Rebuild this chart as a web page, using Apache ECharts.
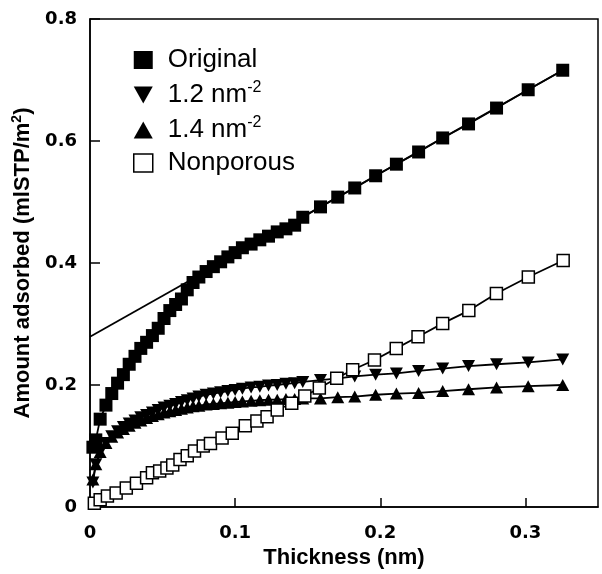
<!DOCTYPE html>
<html>
<head>
<meta charset="utf-8">
<script src="https://cdn.jsdelivr.net/npm/echarts@6/dist/echarts.min.js"></script>
<style>html,body{margin:0;padding:0;background:#fff}#c{width:602px;height:574px}</style>
</head>
<body>
<div id="c"></div>
<script>
// Thickness grid (nm) shared by Original, 1.2 nm-2 and 1.4 nm-2
const thickness = [0.002, 0.004, 0.007, 0.011, 0.015, 0.019, 0.023, 0.027, 0.031, 0.035, 0.039, 0.043, 0.047, 0.051, 0.055, 0.059, 0.063, 0.067, 0.071, 0.075, 0.080, 0.085, 0.090, 0.095, 0.100, 0.105, 0.111, 0.117, 0.123, 0.129, 0.135, 0.141, 0.1466, 0.1588, 0.1707, 0.1824, 0.1968, 0.2111, 0.2264, 0.2430, 0.2608, 0.2801, 0.3019, 0.3257];
const original = [0.098, 0.110, 0.144, 0.167, 0.186, 0.203, 0.217, 0.234, 0.247, 0.260, 0.270, 0.281, 0.293, 0.309, 0.322, 0.332, 0.341, 0.356, 0.368, 0.377, 0.386, 0.394, 0.402, 0.410, 0.417, 0.425, 0.431, 0.438, 0.444, 0.451, 0.456, 0.462, 0.475, 0.492, 0.508, 0.523, 0.543, 0.562, 0.582, 0.605, 0.628, 0.654, 0.684, 0.716];
const dens12 = [0.040, 0.070, 0.090, 0.105, 0.116, 0.124, 0.131, 0.137, 0.142, 0.147, 0.151, 0.155, 0.159, 0.163, 0.166, 0.169, 0.172, 0.175, 0.178, 0.181, 0.184, 0.186, 0.188, 0.190, 0.192, 0.194, 0.196, 0.197, 0.199, 0.200, 0.202, 0.203, 0.205, 0.208, 0.211, 0.214, 0.217, 0.219, 0.223, 0.227, 0.231, 0.234, 0.237, 0.242];
const dens14 = [0.045, 0.070, 0.090, 0.105, 0.115, 0.122, 0.128, 0.133, 0.138, 0.142, 0.146, 0.149, 0.152, 0.155, 0.157, 0.159, 0.161, 0.163, 0.165, 0.166, 0.168, 0.169, 0.170, 0.171, 0.172, 0.173, 0.174, 0.175, 0.176, 0.176, 0.177, 0.177, 0.178, 0.178, 0.180, 0.181, 0.184, 0.186, 0.187, 0.190, 0.193, 0.196, 0.198, 0.200];
// Nonporous reference
const npThickness = [0.003, 0.007, 0.012, 0.018, 0.025, 0.032, 0.039, 0.043, 0.048, 0.053, 0.057, 0.062, 0.067, 0.072, 0.078, 0.083, 0.091, 0.098, 0.107, 0.115, 0.122, 0.129, 0.139, 0.148, 0.158, 0.170, 0.181, 0.196, 0.211, 0.226, 0.243, 0.261, 0.280, 0.302, 0.326];
const nonporous = [0.006, 0.012, 0.018, 0.023, 0.031, 0.039, 0.048, 0.056, 0.059, 0.064, 0.069, 0.078, 0.084, 0.092, 0.100, 0.104, 0.113, 0.121, 0.133, 0.141, 0.148, 0.159, 0.170, 0.182, 0.195, 0.211, 0.225, 0.241, 0.260, 0.279, 0.301, 0.322, 0.350, 0.377, 0.404];
// Linear fit of the Original curve
const fitX = [0, 0.3257];
const fitY = [0.279, 0.716];
const xTicks = [0, 0.1, 0.2, 0.3];
const yTicks = [0, 0.2, 0.4, 0.6, 0.8];
const seriesNames = ['Original', '1.2 nm-2', '1.4 nm-2', 'Nonporous'];

const pairs = (xs, ys) => xs.map((x, i) => [x, ys[i]]);
const downTri = 'path://M0,0 L10,0 L5,9 Z';
const upTri = 'path://M5,0 L10,9 L0,9 Z';

const chart = echarts.init(document.getElementById('c'));
const tickFont = { fontFamily: 'DejaVu Sans', fontWeight: 'bold', fontSize: 18, color: '#000' };
const fmt = (ticks) => (v) => { const r = Math.round(v * 10) / 10; return ticks.indexOf(r) === 0 ? '0' : r.toFixed(1); };
chart.setOption({
  animation: false,
  backgroundColor: '#fff',
  grid: { left: 90, right: 4, top: 19, bottom: 65, show: true, borderColor: '#000', borderWidth: 1.5, backgroundColor: 'transparent' },
  legend: {
    orient: 'vertical', left: 128, top: 42, itemWidth: 19, itemHeight: 18, itemGap: 7,
    data: [
      { name: seriesNames[0], icon: 'rect', itemStyle: { color: '#000' } },
      { name: seriesNames[1], icon: downTri, itemStyle: { color: '#000' } },
      { name: seriesNames[2], icon: upTri, itemStyle: { color: '#000' } },
      { name: seriesNames[3], icon: 'rect', itemStyle: { color: '#fff', borderColor: '#000', borderWidth: 1.5 } }
    ],
    formatter: function (n) {
      const m = n.match(/^(.*)-2$/);
      return m ? '{a|' + m[1] + '}{s|-2}' : '{a|' + n + '}';
    },
    textStyle: {
      padding: [0, 0, 0, 10],
      rich: {
        a: { fontFamily: 'Liberation Sans', fontSize: 26, lineHeight: 30, color: '#000' },
        s: { fontFamily: 'Liberation Sans', fontSize: 16, lineHeight: 16, verticalAlign: 'top', color: '#000' }
      }
    }
  },
  xAxis: {
    type: 'value', min: 0, max: 0.35, interval: 0.1,
    name: 'Thickness (nm)', nameLocation: 'middle', nameGap: 40,
    nameTextStyle: { fontFamily: 'Liberation Sans', fontWeight: 'bold', fontSize: 22, color: '#000' },
    axisLine: { lineStyle: { color: '#000', width: 1.5 } },
    axisTick: { inside: true, length: 9, lineStyle: { color: '#000', width: 1.5 } },
    axisLabel: Object.assign({ margin: 17, showMaxLabel: false, formatter: fmt(xTicks) }, tickFont),
    splitLine: { show: false }
  },
  yAxis: {
    type: 'value', min: 0, max: 0.8, interval: 0.2,
    name: '{t|Amount adsorbed (mlSTP/m}{s|2}{t|)}', nameLocation: 'middle', nameGap: 42,
    nameTextStyle: {
      rich: {
        t: { fontFamily: 'Liberation Sans', fontWeight: 'bold', fontSize: 22, lineHeight: 26, color: '#000' },
        s: { fontFamily: 'Liberation Sans', fontWeight: 'bold', fontSize: 14, lineHeight: 14, verticalAlign: 'top', color: '#000' }
      }
    },
    axisLine: { lineStyle: { color: '#000', width: 1.5 } },
    axisTick: { inside: true, length: 10, lineStyle: { color: '#000', width: 1.5 } },
    axisLabel: Object.assign({ margin: 13, formatter: fmt(yTicks) }, tickFont),
    splitLine: { show: false }
  },
  series: [
    { name: 'fit', type: 'line', data: pairs(fitX, fitY), symbol: 'none', lineStyle: { color: '#000', width: 1.8 }, z: 1 },
    { name: seriesNames[1], type: 'line', data: pairs(thickness, dens12), symbol: downTri, symbolSize: [13, 12],
      itemStyle: { color: '#000' }, lineStyle: { color: '#000', width: 1.8 }, z: 2 },
    { name: seriesNames[2], type: 'line', data: pairs(thickness, dens14), symbol: upTri, symbolSize: [13, 12],
      itemStyle: { color: '#000' }, lineStyle: { color: '#000', width: 1.8 }, z: 2 },
    { name: seriesNames[0], type: 'line', data: pairs(thickness, original), symbol: 'rect', symbolSize: 13,
      itemStyle: { color: '#000' }, lineStyle: { color: '#000', width: 1.8 }, z: 3 },
    { name: seriesNames[3], type: 'line', data: pairs(npThickness, nonporous), symbol: 'rect', symbolSize: 12,
      itemStyle: { color: '#fff', borderColor: '#000', borderWidth: 1.5 }, lineStyle: { color: '#000', width: 1.8 }, z: 4 }
  ]
});
</script>
</body>
</html>
